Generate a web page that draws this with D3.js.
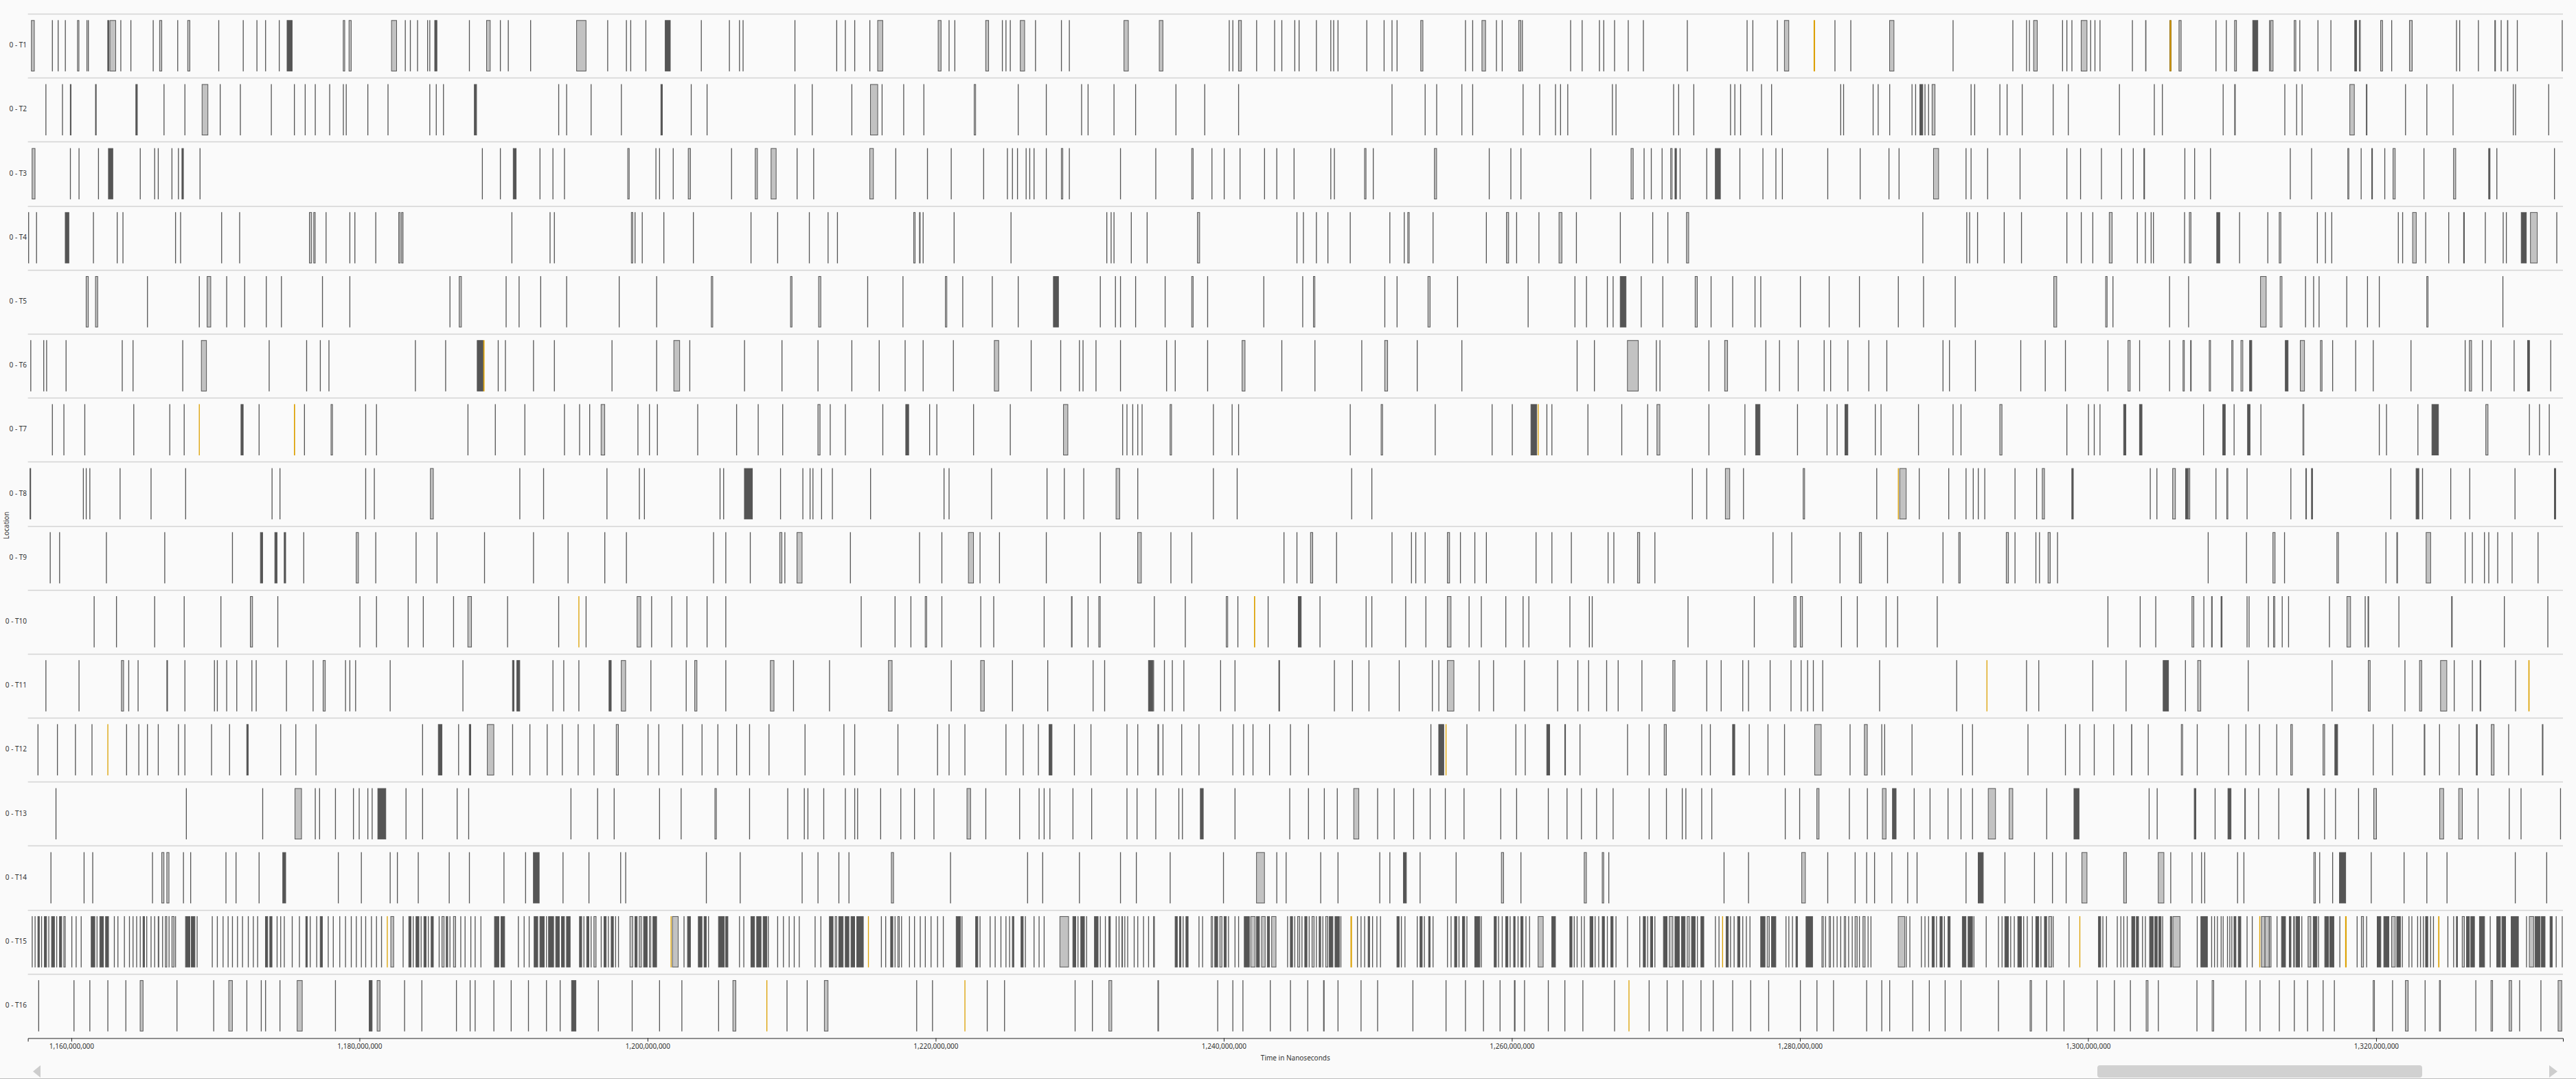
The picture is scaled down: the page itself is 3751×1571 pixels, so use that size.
<!DOCTYPE html>
<html><head><meta charset="utf-8">
<script src="https://cdn.jsdelivr.net/npm/d3@7"></script>
<style>html,body{margin:0;padding:0;background:#fafafa;overflow:hidden}svg{display:block;font-family:"Noto Sans",sans-serif}</style>
</head><body>
<svg id="chart" width="3751" height="1571"></svg>
<script>
// Thread (location) names
const threads = ["0 - T1","0 - T2","0 - T3","0 - T4","0 - T5","0 - T6","0 - T7","0 - T8","0 - T9","0 - T10","0 - T11","0 - T12","0 - T13","0 - T14","0 - T15","0 - T16"];
// Visible time window (ns) and axis ticks (ns)
const timeDomain = [1156980000, 1332970000];
const tickValues = [1160000000,1180000000,1200000000,1220000000,1240000000,1260000000,1280000000,1300000000,1320000000];
// Events per thread, times in millions of ns.
// number = short event start; [start, duration, kind] with kind 0 = light, 1 = dark, 2 = highlighted (gold)
const t1 = [[1157.2,0.25,0],1158.65,1159.05,1159.55,[1160.4,0.15,0],1161.05,1161.15,[1162.5,0.12,1],[1162.65,0.45,0],1163.4,1164.1,1165.65,[1166.1,0.2,0],1167.35,[1168.05,0.2,0],1170.2,1171.9,1172.85,1173.45,1174.4,[1174.95,0.4,1],[1178.85,0.15,0],[1179.25,0.2,0],[1182.2,0.4,0],1183.15,1183.5,1184.0,1184.7,1184.85,[1185.2,0.2,1],1187.6,[1188.8,0.3,0],1189.75,1190.3,1191.85,[1195.05,0.7,0],1197.2,1198.5,1198.8,1199.85,[1201.2,0.4,1],1203.7,1205.65,1206.35,1206.6,1210.2,1213.1,1213.7,1214.35,1215.4,[1215.95,0.4,0],[1220.15,0.25,0],1220.9,1221.3,[1223.45,0.25,0],1224.6,1224.85,1225.15,[1225.85,0.35,0],1226.9,1228.7,1229.25,[1233.05,0.35,0],
[1235.5,0.3,0],1240.35,1240.6,[1241.0,0.25,0],1242.25,1243.5,1244.0,1244.9,1245.2,1246.4,1247.4,1247.6,1247.9,1249.9,1251.1,1251.65,1252.0,[1253.65,0.2,0],1256.75,1257.25,[1257.9,0.3,0],1258.9,1259.3,[1260.45,0.2,0],1260.7,1264.05,1264.85,1266.05,1266.35,1267.1,1268.05,1269.1,1272.15,1276.3,1276.7,1278.4,[1278.9,0.35,0],[1280.95,0.1,2],1282.4,1283.5,[1286.2,0.35,0],1290.6,1294.75,1295.7,1295.9,[1296.2,0.3,0],1298.2,1298.5,1298.85,[1299.5,0.45,0],1300.15,1300.45,1300.8,
1303.05,[1303.97,0.08,0],[1305.65,0.14,2],[1306.29,0.2,0],1308.85,1309.57,[1310.15,0.18,0],[1311.41,0.4,1],1312.57,[1312.65,0.22,0],[1314.29,0.16,0],1314.67,1315.93,1316.83,[1318.49,0.18,1],[1318.81,0.12,0],[1320.29,0.18,0],1321.05,[1322.29,0.24,0],1325.55,1325.77,1327.07,[1328.21,0.1,0],1328.65,[1329.09,0.08,0],1329.77,1332.89];
const t2 = [1158.2,1159.35,[1159.9,0.1,1],[1161.65,0.1,1],[1164.45,0.15,1],1166.4,1167.85,[1169.05,0.45,0],1170.3,1171.7,1173.85,1175.45,1176.2,1176.9,1177.9,1178.85,1179.05,1180.55,1181.95,1184.85,1185.3,1185.8,[1187.95,0.2,1],1193.8,1194.35,1196.05,1198.15,[1200.9,0.15,1],1203.0,1204.1,1210.2,1211.4,1214.15,[1215.45,0.55,0],1216.25,1217.75,1219.15,[1222.65,0.15,0],1225.7,1227.65,1230.1,1230.55,1232.35,1233.85,
1236.65,1238.65,1241.0,1251.65,1253.95,1254.75,1256.5,1257.25,1260.75,1261.9,1263.0,1263.35,1263.85,1266.95,1267.2,1271.2,1271.55,1272.6,1275.15,1275.45,1275.85,1277.3,1278.0,1282.8,1283.0,1285.05,1285.4,1286.2,1287.75,1288.0,[1288.3,0.25,1],1288.65,1288.9,[1289.15,0.25,0],1291.85,1292.1,1293.85,1294.35,1295.4,1297.55,1298.6,1302.15,
1304.57,1305.13,1309.35,[1310.15,0.1,0],1313.63,1314.45,1314.83,[1318.15,0.36,0],[1319.29,0.1,0],1322.01,1323.49,1325.31,1329.49,1329.65,1331.95];
const t3 = [[1157.25,0.25,0],1159.9,1160.5,1161.85,[1162.55,0.35,1],1164.75,1165.75,1166.0,1166.95,1167.4,[1167.65,0.15,1],1168.9,1188.5,1189.75,[1190.65,0.25,1],1192.5,1193.4,1194.2,[1198.6,0.15,0],1200.55,1200.8,1201.75,[1202.8,0.2,0],1205.8,[1207.45,0.2,0],[1208.55,0.4,0],1210.35,1211.5,[1215.4,0.3,0],1217.2,1219.4,1221.05,1223.3,1224.95,1225.3,1225.65,1226.25,1226.5,1226.8,1227.65,[1228.7,0.15,0],1229.25,1232.8,
1235.25,[1237.75,0.15,0],1239.15,1240.0,1241.1,1242.8,1243.65,1244.85,1247.4,1247.65,[1249.75,0.15,0],1250.35,[1254.6,0.2,0],1258.4,1259.9,1260.6,1265.45,[1268.25,0.2,0],1269.15,1269.65,1270.4,[1271.0,0.15,0],[1271.3,0.15,1],1271.65,1273.5,[1274.1,0.4,1],1275.8,1277.4,1278.3,1278.75,1281.9,1284.15,1286.15,1286.85,[1289.25,0.4,0],1291.5,1291.85,1293.0,1295.25,1298.5,1299.45,1300.9,1302.3,
1303.11,[1303.85,0.1,1],1306.69,1307.37,1308.47,1314.01,1315.49,[1318.01,0.12,0],1318.93,[1319.67,0.1,1],1320.57,[1321.15,0.2,0],1323.29,[1325.35,0.2,0],[1327.79,0.14,1],1328.35,1332.35];
const t4 = [1157.0,1157.55,[1159.55,0.3,1],1161.5,1163.15,1163.55,1167.2,1167.55,1170.4,1171.65,[1176.5,0.2,0],[1176.8,0.15,0],1177.65,1179.3,1179.65,1181.1,[1182.7,0.15,0],[1182.9,0.15,0],1190.55,1193.2,1193.5,[1198.85,0.15,0],1199.1,1199.6,1201.1,1203.15,1207.15,1209.0,1211.2,1212.5,1213.15,[1218.45,0.15,0],[1218.85,0.1,0],1219.1,1221.25,1225.2,1231.85,1232.15,1232.35,1233.55,1234.65,
[1238.15,0.2,0],1245.05,1245.5,1246.4,1247.2,1248.75,1251.5,1252.5,[1252.75,0.15,0],1254.5,1258.2,[1259.6,0.2,0],1260.3,1261.85,[1263.25,0.25,0],1264.45,1267.5,1269.75,1270.8,[1272.1,0.2,0],1288.5,1291.55,1291.75,1292.3,1294.15,1295.35,1298.5,1299.5,1300.3,[1301.45,0.25,0],
1303.39,1303.95,1304.35,1304.51,1306.67,[1307.01,0.16,0],[1308.91,0.26,1],1310.49,1312.45,[1313.25,0.16,0],1315.89,1316.45,1316.89,1321.51,1321.81,[1322.51,0.3,0],1323.41,1325.01,[1326.05,0.1,1],1327.55,1328.79,1329.01,[1330.05,0.4,1],[1330.69,0.52,0],1332.51];
const t5 = [[1161.0,0.2,0],[1161.65,0.2,0],1165.25,1168.85,[1169.4,0.3,0],1170.75,1172.0,1173.5,1174.55,1177.4,1179.3,1186.25,[1186.9,0.2,0],1190.15,1191.05,1192.55,1194.35,1198.0,1200.6,[1204.4,0.15,0],[1209.9,0.15,0],[1211.85,0.2,0],1215.25,1217.7,[1220.65,0.15,0],1221.85,1223.9,1225.7,[1228.15,0.4,1],1231.4,1232.45,1232.8,1233.85,
1235.9,[1237.75,0.15,0],1238.85,1242.75,1245.45,[1246.2,0.15,0],1251.15,1252.0,[1254.15,0.2,0],1256.2,1261.1,1264.35,1265.15,1266.6,1267.0,[1267.5,0.45,1],1268.95,1270.45,[1272.7,0.2,0],1273.8,1275.3,1276.85,1277.25,1280.0,1282.0,1284.1,1286.8,1288.55,1290.75,[1297.6,0.25,0],[1301.2,0.15,0],1301.7,
1305.63,1306.95,[1311.95,0.44,0],[1313.31,0.18,0],1315.07,1315.63,1316.01,1317.93,1319.37,1320.19,[1323.49,0.14,0],1328.77];
const t6 = [1157.15,1158.05,1158.25,1159.6,1163.5,1164.25,1167.7,[1169.0,0.4,0],1173.7,1176.3,1177.25,1177.85,1183.85,1185.95,[1188.15,0.45,1],[1188.6,0.08,2],1189.6,1190.1,1192.05,1193.5,1197.5,1200.6,[1201.8,0.45,0],1202.9,1206.7,1209.3,1211.8,1214.15,1216.05,1217.85,1219.1,1221.2,[1224.05,0.35,0],1226.6,1228.65,1229.95,1230.2,1231.1,1232.8,
1236.0,1236.6,1238.85,[1241.25,0.25,0],1244.0,1246.3,1249.55,[1251.15,0.25,0],1253.4,1256.5,1264.5,1265.7,[1268.0,0.8,0],1270.0,1270.25,1273.65,[1274.75,0.25,0],1277.6,1278.55,1279.85,1281.65,1282.1,1283.3,1284.75,1286.0,1289.9,1290.35,1292.15,1295.3,1297.0,1298.4,1301.35,
[1302.75,0.2,0],1303.55,1305.63,[1306.57,0.14,0],[1307.09,0.1,0],[1308.39,0.14,0],[1309.95,0.14,0],[1310.59,0.18,0],[1311.19,0.2,1],[1313.67,0.24,1],[1314.71,0.34,0],[1316.11,0.16,0],1316.95,1318.55,1319.77,1322.39,1326.15,[1326.45,0.2,0],1327.35,1327.95,1329.55,[1330.49,0.18,1],1332.09];
const t7 = [1158.65,1159.45,1160.9,1164.3,1166.8,1167.8,[1168.85,0.06,2],[1171.75,0.2,1],1173.0,[1175.45,0.08,2],1176.15,[1178.0,0.15,0],1180.4,1181.15,1187.5,1189.4,1191.45,1194.2,1195.25,1195.95,[1196.75,0.3,0],1199.3,1200.1,1200.65,1203.45,1206.15,1207.65,1209.35,[1211.8,0.2,0],1212.65,1213.7,1216.3,[1217.9,0.25,1],1219.55,1220.05,1222.6,1225.15,[1228.85,0.35,0],1232.95,1233.25,1233.65,1234.0,1234.3,
[1236.25,0.15,0],1239.25,1240.55,1241.0,1248.75,[1250.9,0.15,0],1254.65,1258.6,1260.0,[1261.3,0.45,1],[1261.8,0.06,2],1262.4,1262.75,1265.25,1267.6,1269.4,[1270.05,0.25,0],1273.65,1276.15,[1276.9,0.35,1],1279.8,1281.85,1282.55,[1283.1,0.25,1],1285.2,1285.6,1288.2,1290.6,1291.15,[1293.85,0.2,0],1298.5,1300.0,1300.4,1300.8,
[1302.45,0.2,1],[1303.55,0.22,1],1307.99,[1309.33,0.22,1],1310.11,[1311.05,0.22,1],1311.97,[1314.89,0.12,0],1320.19,1320.69,1322.87,[1323.85,0.5,1],[1327.59,0.2,0],1330.61,1331.31,1331.99];
const t8 = [[1157.1,0.1,1],1160.8,1161.0,1161.25,1163.35,1165.5,1167.9,1173.9,1174.45,1180.4,1181.0,[1184.9,0.25,0],1191.1,1192.75,1197.15,1199.4,1199.75,1205.0,1205.25,[1206.7,0.6,1],1209.2,1210.75,1211.25,1211.45,1212.05,1212.8,1215.45,1220.55,1220.9,1223.85,1227.7,1228.9,1230.25,[1232.5,0.3,0],1234.0,
1239.25,1240.9,1248.85,1250.25,1272.5,1273.5,[1274.8,0.35,0],1276.05,[1280.2,0.15,0],1285.3,[1286.8,0.06,2],[1286.9,0.5,0],1288.25,1290.3,1291.5,1292.0,1292.35,1292.8,1294.9,1296.4,[1296.8,0.2,0],[1298.85,0.15,1],
1304.29,1304.75,[1305.85,0.24,0],[1306.75,0.2,1],[1306.95,0.14,0],1308.85,[1309.61,0.12,0],1311.01,1314.05,[1315.09,0.1,0],[1315.49,0.12,1],1320.99,[1322.75,0.24,1],1323.19,1325.15,1326.47,1329.61,[1332.35,0.14,1]];
const t9 = [1158.5,1159.15,1162.4,1166.45,1171.15,[1173.1,0.2,1],[1174.1,0.2,1],[1174.75,0.15,1],1176.1,[1179.75,0.2,0],1181.1,1183.9,1185.35,1188.65,1192.05,1194.45,1197.0,1198.5,1204.55,1205.4,1207.1,[1209.15,0.2,0],1209.5,[1210.35,0.4,0],1214.05,1218.85,1220.4,[1222.25,0.4,0],1223.05,1224.4,1227.65,1231.4,[1234.0,0.3,0],
1236.3,1237.75,1244.15,1245.05,[1246.0,0.2,0],1247.8,1251.65,1253.0,1253.3,1253.95,[1255.5,0.2,0],1256.4,1257.4,1258.2,1261.65,1262.75,1264.1,1266.65,1267.05,[1268.7,0.2,0],1269.9,1278.1,1279.4,1282.75,[1284.1,0.2,0],1286.05,1289.9,[1291.0,0.15,0],[1294.3,0.2,0],1294.9,1296.35,1296.6,[1297.2,0.2,0],1297.85,
1308.31,1310.97,[1312.81,0.2,0],1313.61,[1317.25,0.16,0],1320.65,[1321.41,0.1,0],[1323.45,0.36,0],1326.15,1326.65,1327.49,1327.79,1328.41,1329.41,1331.21];
const t10 = [1161.55,1163.1,1165.75,1167.8,1170.35,[1172.4,0.2,0],1174.3,1180.0,1181.15,1183.35,1184.4,1186.5,[1187.5,0.3,0],1190.25,1193.8,[1195.2,0.06,2],1195.7,[1199.25,0.3,0],1200.25,1201.65,1202.7,1204.1,1205.4,1214.8,1217.15,1218.25,[1219.25,0.15,0],1220.4,1223.1,1224.0,1227.5,[1229.4,0.1,0],1230.55,[1231.3,0.15,0],
1235.15,1237.3,[1240.15,0.15,0],1240.95,[1242.1,0.08,2],1243.05,[1245.15,0.25,1],1246.65,1249.85,1250.25,1252.6,1254.0,[1255.5,0.3,0],1257.0,1257.85,1259.55,1260.75,1261.15,1264.0,1265.35,1265.55,1272.2,1276.8,[1279.55,0.2,0],[1280.0,0.2,0],1282.85,1283.95,1285.95,1286.75,1289.5,1301.35,
1303.59,1304.67,[1307.19,0.18,0],1308.01,[1308.55,0.1,0],[1309.21,0.12,1],1311.01,1311.15,1312.49,[1312.85,0.14,0],1313.45,1313.89,1316.73,[1317.95,0.3,0],1319.21,[1319.41,0.1,0],1321.55,[1325.21,0.1,0],1328.87,1331.89];
const t11 = [1158.2,1160.5,[1163.45,0.2,0],1163.95,1164.6,[1166.6,0.1,1],1167.85,1169.9,1170.1,1170.75,1171.45,1172.5,1172.8,1174.9,1176.75,[1177.45,0.2,0],1179.0,1179.3,1179.7,1182.1,1187.15,[1190.6,0.15,1],[1190.9,0.25,1],1193.4,1194.15,1195.2,[1197.3,0.2,1],[1198.15,0.35,0],1200.2,1202.65,[1203.25,0.2,0],1205.4,[1208.5,0.3,0],1210.1,1212.6,[1216.7,0.3,0],1221.05,[1223.1,0.3,0],1225.3,1227.75,1230.9,1231.7,[1234.75,0.35,1],
1235.1,1235.85,1236.4,1237.2,1239.75,1240.75,[1243.8,0.1,1],1247.65,1248.9,1250.05,1252.15,1254.45,1254.9,[1255.5,0.5,0],1257.7,1258.7,1260.85,1263.15,1264.55,1265.3,1266.55,1267.35,1269.0,[1271.15,0.2,0],1273.5,1274.5,1276.0,1276.4,1277.9,1279.35,1280.05,1280.5,1280.9,1281.55,1285.5,1290.85,[1292.95,0.06,2],1295.7,1296.55,1300.3,
1302.61,[1305.19,0.42,1],1306.73,[1307.59,0.26,0],1311.09,1316.91,[1319.43,0.18,0],1321.97,[1322.99,0.2,0],[1324.45,0.48,0],1325.39,1326.65,[1327.19,0.1,0],1329.65,[1330.57,0.08,2]];
const t12 = [1157.65,1159.0,1160.25,1161.4,[1162.5,0.06,2],1163.8,1164.65,1165.25,1166.0,1167.4,1167.85,1169.7,1170.95,[1172.15,0.15,1],1174.5,1175.55,1176.95,1184.35,[1185.45,0.3,1],1186.85,[1187.6,0.15,1],[1188.85,0.5,0],1190.6,1191.8,1193.0,1194.05,1195.15,1196.25,[1197.8,0.2,0],1200.0,1200.75,1202.4,1203.75,1204.85,1206.15,1207.05,1208.4,1210.9,1213.6,1214.35,1217.35,1220.1,1220.9,1222.0,1224.85,1226.05,1227.1,[1227.85,0.25,1],1229.6,1230.75,1233.25,1234.0,
[1235.4,0.1,0],1235.75,1237.05,1238.25,1240.6,1241.35,1242.0,1243.15,1244.6,1245.85,1254.35,[1254.9,0.4,1],[1255.4,0.06,2],1256.85,1260.25,1260.9,[1262.4,0.25,1],[1263.65,0.1,1],1264.7,1268.0,1269.5,[1270.55,0.2,0],1273.15,1273.75,[1275.3,0.2,1],1276.45,1277.75,1278.9,[1281.0,0.5,0],1283.45,[1284.45,0.25,0],1285.65,1285.85,1287.75,1291.25,1291.95,1295.8,1298.4,1299.4,1300.4,1301.75,
[1302.99,0.08,0],1304.15,[1306.45,0.14,0],1307.55,1309.73,1310.93,1311.87,1313.07,[1314.05,0.16,0],[1316.29,0.16,0],[1317.11,0.24,1],1319.77,1321.11,[1323.31,0.1,0],1324.37,1325.73,[1326.93,0.12,1],[1327.97,0.24,0],1329.17,[1331.51,0.1,0]];
const t13 = [1158.9,1167.95,1173.25,[1175.5,0.5,0],1176.9,1177.2,1178.3,1179.55,1179.95,1180.55,1180.85,[1181.25,0.6,1],1183.2,1184.35,1186.75,1187.55,1194.65,1196.5,1197.65,1200.8,1202.3,[1204.65,0.15,0],1207.05,1209.7,1210.85,1211.1,1212.2,1213.7,1214.35,1214.55,1216.15,1217.55,1218.5,1219.85,[1222.15,0.3,0],1223.45,1225.8,1227.15,1227.5,1227.9,1229.5,1230.8,1233.25,1233.95,1235.25,
1236.85,1237.1,[1238.35,0.25,1],1240.75,1244.55,1245.85,1246.95,1247.85,[1249.0,0.4,0],1250.65,1251.8,1253.15,1254.3,1255.35,1256.65,1259.2,1260.3,1262.5,1263.8,1264.8,1265.85,1267.0,1269.5,1270.7,1271.8,1272.05,1273.15,1273.85,1278.95,1279.95,[1281.15,0.2,0],1283.4,1284.65,[1285.7,0.3,0],[1286.4,0.3,1],1287.9,1289.0,1290.25,1291.15,1291.95,[1293.05,0.55,0],[1294.5,0.3,0],1297.1,[1299.0,0.4,1],
1304.21,1304.77,[1307.35,0.16,1],1308.79,[1309.69,0.26,1],[1310.85,0.1,0],1311.81,1313.21,[1315.19,0.18,1],1316.39,1317.15,1318.75,[1319.81,0.24,0],[1324.39,0.32,0],[1325.71,0.3,0],1327.05,1329.21,1330.03,1332.77];
const t14 = [1158.55,1160.85,1161.45,1165.6,[1166.25,0.2,0],[1166.6,0.2,0],1167.75,1168.25,1170.7,1171.4,1173.0,[1174.65,0.25,1],1178.5,1180.1,1182.1,1182.6,1184.05,1186.2,1187.6,1190.0,1191.5,[1192.05,0.45,1],1194.1,1195.9,1198.1,1198.45,1204.05,1206.4,1210.7,1211.8,1213.25,1213.95,[1216.9,0.2,0],1221.0,1226.35,1227.4,1229.95,1232.8,1233.9,
1236.25,1239.95,[1242.25,0.6,0],1243.65,1244.3,1246.7,1247.9,1250.8,1251.5,[1252.45,0.25,1],1253.6,1256.1,[1259.25,0.2,0],1260.6,[1265.0,0.2,0],[1266.25,0.15,0],1266.7,1274.7,1276.4,[1280.1,0.3,0],1281.9,1283.8,1284.6,1285.15,1286.35,1287.45,1288.1,1291.5,[1292.35,0.4,1],1294.2,1296.25,1297.5,1298.45,[1299.55,0.4,0],
[1302.45,0.24,0],[1304.85,0.44,0],1305.71,1307.19,1307.85,1308.07,1310.35,1310.79,[1315.65,0.16,0],1316.05,1316.95,[1317.43,0.48,1],1319.63,1321.91,1323.49,1324.89,1329.63,1331.81];
const t15 = [1157.25,1157.45,[1157.65,0.15,1],1157.9,[1158.1,0.2,1],1158.4,[1158.6,0.25,1],1158.95,[1159.15,0.2,1],[1159.45,0.15,0],1160.0,1160.3,1160.65,[1161.35,0.3,1],1161.75,[1161.95,0.3,1],[1162.35,0.25,1],1162.95,1163.2,1163.65,1164.0,1164.25,1164.5,1164.75,[1164.95,0.15,1],1165.2,1165.5,1165.75,[1166.0,0.1,0],1166.3,[1166.5,0.15,0],1166.75,[1166.95,0.2,0],1167.2,[1167.9,0.35,1],[1168.3,0.3,1],1168.7,1169.75,1170.1,1170.5,1170.85,1171.15,1171.5,1171.85,1172.25,1172.6,1172.9,[1173.45,0.2,1],[1173.75,0.2,1],1174.25,1174.5,1174.75,1175.3,1175.8,[1176.25,0.15,1],1176.55,1177.0,[1177.25,0.2,1],1177.8,1178.15,1178.6,1179.0,1179.4,1179.75,1180.1,1180.4,1180.8,1181.15,1181.5,[1181.9,0.06,2],[1182.15,0.25,0],1183.0,[1183.4,0.2,1],1183.7,[1183.9,0.25,1],1184.25,[1184.45,0.2,1],1184.75,[1184.95,0.2,1],1185.5,[1185.7,0.2,0],[1186.0,0.15,1],1186.25,[1186.5,0.2,0],1187.0,1187.3,1187.7,1188.0,1188.4,[1189.35,0.35,1],[1189.8,0.3,1],1191.0,1191.4,1191.75,[1192.1,0.3,1],[1192.5,0.35,1],1192.95,[1193.1,0.4,1],[1193.6,0.3,1],[1194.0,0.25,1],[1194.35,0.3,1],[1195.25,0.2,1],1195.55,[1195.75,0.2,1],1196.05,[1196.25,0.2,0],1196.75,[1196.95,0.2,1],1197.25,[1197.45,0.2,1],1197.75,1197.95,[1198.75,0.25,0],[1199.1,0.2,1],[1199.4,0.2,0],[1199.7,0.3,1],[1200.1,0.15,0],[1200.35,0.3,1],[1201.6,0.06,2],[1201.7,0.45,0],1202.5,[1202.75,0.25,1],[1203.5,0.3,1],[1203.9,0.2,1],1204.2,[1204.9,0.45,1],[1205.4,0.2,1],1206.35,1206.65,[1207.15,0.3,1],[1207.55,0.35,1],[1208.0,0.3,1],1208.35,1209.0,1209.4,1209.8,1210.15,1210.5,1211.6,1212.0,[1212.6,0.3,1],[1213.0,0.15,0],[1213.25,0.35,1],[1213.7,0.3,1],[1214.1,0.3,1],[1214.5,0.5,1],[1215.3,0.06,2],1216.2,1216.5,[1216.85,0.2,1],1217.15,[1217.35,0.15,0],1217.6,1218.15,1218.5,1218.9,1219.25,1219.65,1220.1,1220.5,[1221.4,0.35,1],1221.8,[1222.75,0.2,1],1223.05,1223.75,1224.1,1224.5,1224.85,1225.1,[1225.3,0.15,1],[1225.9,0.2,1],1226.2,1226.8,1227.15,1227.5,[1228.6,0.65,0],[1229.5,0.25,1],1229.85,[1230.05,0.3,1],1230.45,[1231.0,0.3,1],1231.4,1231.75,[1232.0,0.15,1],1232.5,1232.7,[1232.9,0.1,0],1233.1,1233.3,1233.75,1234.0,1234.4,1234.75,1235.1,
1235.15,[1236.6,0.2,1],[1236.9,0.15,1],1237.15,[1237.35,0.2,1],1238.25,1238.5,[1239.1,0.15,0],[1239.35,0.25,1],[1239.7,0.2,0],[1240.0,0.2,1],1240.3,1240.75,1241.0,[1241.4,0.4,1],[1241.85,0.35,0],[1242.25,0.25,1],[1242.6,0.3,0],[1243.0,0.2,1],[1243.3,0.35,0],1244.4,[1244.6,0.2,1],1244.9,[1245.1,0.2,0],1245.4,[1245.6,0.2,1],1245.9,[1246.1,0.2,0],1246.4,[1246.6,0.15,1],1246.85,[1247.05,0.2,0],[1247.3,0.3,1],[1247.7,0.35,1],1248.1,[1248.8,0.1,2],1249.25,1249.5,1249.75,[1250.0,0.15,1],1250.3,1250.6,1250.85,[1252.0,0.2,1],1252.3,1252.55,1253.4,[1253.6,0.2,1],1253.9,[1254.2,0.15,1],1254.5,1255.5,1255.75,[1256.0,0.2,1],1256.3,[1256.55,0.2,1],1256.85,[1257.4,0.4,1],1257.85,[1258.75,0.2,1],1259.05,1259.3,[1259.55,0.2,1],1259.85,[1260.1,0.15,1],1260.4,[1260.6,0.2,1],1260.95,1261.2,[1261.8,0.4,0],[1262.75,0.3,1],[1264.0,0.2,1],1264.3,1264.5,1264.8,1265.0,[1265.4,0.25,1],1265.75,1266.0,[1266.25,0.2,1],1266.6,[1266.85,0.2,1],1267.2,1268.0,1268.85,[1269.1,0.2,1],1269.4,[1269.6,0.2,1],1269.9,[1270.5,0.3,1],[1270.9,0.3,0],[1271.3,0.35,1],[1271.75,0.3,1],[1272.15,0.2,0],[1272.45,0.3,1],1272.85,[1273.1,0.25,1],1274.1,1274.35,[1274.6,0.06,2],[1274.85,0.2,1],1275.15,1275.4,[1275.65,0.2,1],1276.0,1276.25,1276.5,[1277.25,0.35,1],[1277.7,0.2,0],[1278.0,0.35,1],1279.0,1279.2,1279.45,[1279.7,0.15,1],[1280.4,0.5,1],[1281.5,0.15,0],1281.75,[1282.0,0.15,0],1282.3,1282.55,1282.8,[1283.05,0.15,0],1283.35,1283.6,[1283.8,0.2,0],1284.1,[1284.35,0.2,0],1284.7,1284.9,[1286.8,0.5,0],1287.35,1287.6,1288.4,1288.65,1288.9,[1289.15,0.2,1],1289.45,[1289.7,0.2,1],1290.0,[1290.25,0.2,1],[1291.25,0.3,1],[1291.65,0.35,1],1292.05,1292.9,1293.75,1294.0,[1294.2,0.3,1],1294.6,1294.85,[1295.1,0.3,1],1295.5,1295.75,1296.1,[1296.35,0.25,1],1296.7,[1296.95,0.2,1],[1297.25,0.25,0],1297.55,1298.65,[1299.4,0.06,2],[1300.7,0.2,1],1301.0,1301.25,1302.0,1302.25,
1302.45,1302.69,[1303.01,0.26,1],[1303.33,0.2,1],1303.75,1303.95,[1304.25,0.3,1],[1304.61,0.22,1],[1304.89,0.2,1],1305.15,[1305.69,0.14,1],[1305.87,0.54,0],1307.55,[1307.81,0.5,1],1308.55,1308.75,1308.95,1309.21,1309.35,1309.65,1309.81,1309.95,[1310.11,0.18,1],[1310.41,0.22,1],1311.01,1311.37,[1311.89,0.06,2],[1312.01,0.72,0],1312.25,1312.55,1313.09,[1313.41,0.32,1],[1313.95,0.16,1],[1314.25,0.1,1],[1314.41,0.3,1],1314.81,[1315.25,0.24,0],[1315.61,0.3,1],1315.97,[1316.41,0.3,1],[1316.75,0.3,1],1317.03,1317.45,[1317.85,0.1,2],1318.65,[1318.95,0.2,0],1319.31,[1320.05,0.3,1],[1320.51,0.4,1],[1321.05,0.3,0],[1321.41,0.3,1],1321.79,1322.25,1322.45,1322.85,1323.05,1323.25,[1323.41,0.2,1],1323.75,1323.95,[1324.31,0.08,2],1324.95,1325.35,[1325.55,0.12,1],[1325.95,0.2,0],[1326.25,0.25,1],[1326.55,0.3,1],[1327.15,0.4,1],1327.89,[1328.35,0.3,1],[1328.71,0.3,1],[1329.35,0.55,1],1330.41,[1330.61,0.35,0],[1331.01,0.4,1],[1331.45,0.3,1],[1332.05,0.2,1],1332.47,1332.89];
const t16 = [1157.7,1160.15,1161.25,1162.5,1163.75,[1164.75,0.25,0],1167.3,1169.85,[1170.9,0.3,0],1172.15,1173.15,1173.45,1174.45,[1175.65,0.4,0],1178.3,[1180.65,0.25,1],[1181.2,0.25,0],1183.1,1184.3,1186.7,1187.65,1188.0,1189.3,1190.5,1191.7,1192.95,1193.9,[1194.7,0.35,1],1196.55,1198.9,1200.8,1202.35,1204.9,[1205.9,0.25,0],[1208.25,0.06,2],1209.65,1211.05,[1212.25,0.3,0],1218.65,1219.75,[1222.0,0.06,2],1223.55,1224.75,1229.65,1230.85,[1232.0,0.25,0],
[1235.4,0.1,0],1239.55,1240.6,1241.3,1243.2,1244.6,1245.8,[1246.9,0.1,0],1247.9,1249.5,1250.65,1253.1,1255.4,1256.75,1258.0,1259.15,[1260.15,0.1,1],1260.85,1262.5,1263.65,1264.9,1267.1,[1268.1,0.06,2],1269.5,1270.75,1271.85,1273.1,1273.95,1275.3,1276.55,1277.8,1280.0,1281.15,1282.3,1284.6,1285.65,1286.2,1287.8,1288.95,1290.05,1291.15,1293.75,[1295.95,0.15,0],1297.1,1298.3,1300.6,1301.8,
1302.91,[1304.01,0.18,0],1304.85,1307.53,[1308.59,0.16,0],1310.93,1311.91,1313.25,1314.29,1315.21,1316.29,1317.07,[1319.77,0.14,0],1321.11,[1322.01,0.24,0],1323.37,[1324.37,0.12,0],1326.89,[1327.95,0.16,0],[1329.21,0.22,0],1329.93,1331.41,[1332.61,0.3,0]];
const rows = [t1,t2,t3,t4,t5,t6,t7,t8,t9,t10,t11,t12,t13,t14,t15,t16];

const W = 3751, H = 1571;
const plotLeft = 40.6, plotRight = 3732, plotTop = 20, plotBottom = 1511;
const svg = d3.select("#chart");
svg.append("rect").attr("width", W).attr("height", H).attr("fill", "#fafafa");

const x = d3.scaleLinear().domain(timeDomain).range([plotLeft, plotRight]);
const y = d3.scaleBand().domain(threads).range([plotTop, plotBottom]).paddingInner(0.2).paddingOuter(0.1);
const gap = (y.step() - y.bandwidth()) / 2;

// row separators
svg.append("g").selectAll("line").data(threads).join("line")
  .attr("x1", plotLeft).attr("x2", plotRight)
  .attr("y1", d => Math.round(y(d) - gap) + 0.5).attr("y2", d => Math.round(y(d) - gap) + 0.5)
  .attr("stroke", "#d4d4d4").attr("stroke-width", 1.5);

// events
const FILL = ["#c2c2c2", "#555555", "#e2a400", "#555555"];
const STROKE = ["#555555", "#555555", "#9a7410", "#555555"];
const events = rows.flatMap((r, i) => r.map(e => {
  const [s, d, k] = typeof e === "number" ? [e, 0.05, 3] : e;
  return { thread: threads[i], s: s * 1e6, e: (s + d) * 1e6, k };
}));
const gEv = svg.append("g");
events.forEach(ev => {
  const x0 = x(ev.s), w = x(ev.e) - x(ev.s);
  const yy = y(ev.thread), hh = y.bandwidth();
  if (w < 2.5) {
    gEv.append("rect").attr("x", x0).attr("y", yy).attr("width", Math.max(1.3, w)).attr("height", hh)
      .attr("fill", ev.k === 2 ? "#dca000" : (ev.k === 0 ? "#606060" : FILL[ev.k]));
  } else {
    gEv.append("rect").attr("x", x0 + 0.5).attr("y", yy + 0.5).attr("width", w - 1).attr("height", hh - 1)
      .attr("fill", FILL[ev.k]).attr("stroke", STROKE[ev.k]).attr("stroke-width", 1);
  }
});

// thread labels
svg.append("g").selectAll("text").data(threads).join("text")
  .attr("x", 39).attr("y", d => y(d) + y.bandwidth() / 2)
  .attr("text-anchor", "end").attr("dominant-baseline", "middle")
  .attr("font-size", 10).attr("fill", "#333").text(d => d);

// y title
svg.append("text").attr("transform", "translate(12.5,765) rotate(-90)")
  .attr("text-anchor", "middle").attr("font-size", 10).attr("fill", "#333").text("Location");

// x axis
const axis = d3.axisBottom(x).tickValues(tickValues.map(Number)).tickFormat(d3.format(","))
  .tickSize(5).tickSizeOuter(5).tickPadding(3);
const gx = svg.append("g").attr("transform", `translate(0,${plotBottom + 0.5})`).call(axis);
gx.attr("color", "#222").attr("font-family", "Noto Sans, sans-serif").attr("font-size", 10);
gx.selectAll("text").attr("fill", "#333");

svg.append("text").attr("x", (plotLeft + plotRight) / 2).attr("y", 1544)
  .attr("text-anchor", "middle").attr("font-size", 10).attr("fill", "#333").text("Time in Nanoseconds");

// horizontal scrollbar
const sb = svg.append("g");
sb.append("rect").attr("x", 3054).attr("y", 1551).attr("width", 473).attr("height", 18).attr("rx", 4).attr("fill", "#d1d1d1");
sb.append("path").attr("d", "M59,1551L59,1569L48,1560Z").attr("fill", "#cdcdcd");
sb.append("path").attr("d", "M3712,1551L3712,1569L3724,1560Z").attr("fill", "#cdcdcd");
sb.append("line").attr("x1", 0).attr("x2", W).attr("y1", 1570.5).attr("y2", 1570.5).attr("stroke", "#bdbdbd");
</script>
</body></html>
